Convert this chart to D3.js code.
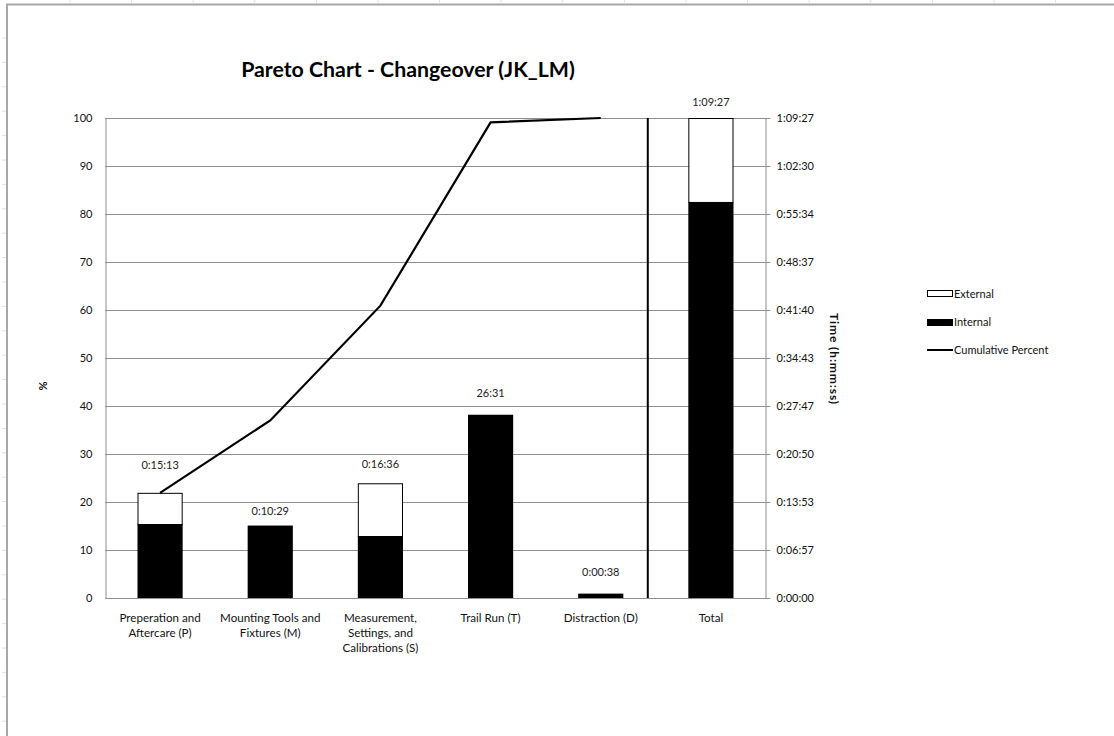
<!DOCTYPE html>
<html>
<head>
<meta charset="utf-8">
<script src="https://cdn.jsdelivr.net/npm/d3@7/dist/d3.min.js"></script>
<style>
  html, body { margin: 0; padding: 0; background: #fff; }
  svg { display: block; font-family: Lato, "Noto Sans", sans-serif; }
</style>
</head>
<body>
<svg id="chart" width="1114" height="736"></svg>
<script>
// Changeover steps (Pareto order) plus the overall total
const categories = [
  ["Preperation and", "Aftercare (P)"],
  ["Mounting Tools and", "Fixtures (M)"],
  ["Measurement,", "Settings, and", "Calibrations (S)"],
  ["Trail Run (T)"],
  ["Distraction (D)"],
  ["Total"]
];
// step durations in seconds
const stepSeconds     = [913, 629, 996, 1591, 38];
const internalSeconds = [642, 629, 538, 1591, 38];
const totalSeconds    = 4167;
const totalInternal   = 3438;
const valueLabels     = ["0:15:13", "0:10:29", "0:16:36", "26:31", "0:00:38", "1:09:27"];
// cumulative share of total changeover time, %
const cumulativePercent = [21.9, 37.0, 60.9, 99.1, 100.0];
const pctTicks  = [0, 10, 20, 30, 40, 50, 60, 70, 80, 90, 100];
const timeTicks = ["0:00:00", "0:06:57", "0:13:53", "0:20:50", "0:27:47", "0:34:43",
                   "0:41:40", "0:48:37", "0:55:34", "1:02:30", "1:09:27"];
const legendItems = ["External", "Internal", "Cumulative Percent"];

// layout
const plot = { left: 105, right: 766, top: 118, bottom: 598 };
const labelGap = [28, 14, 19, 22, 21, 16];
const gridColor = "#8e8e8e";

const svg = d3.select("#chart");

// sheet frame
svg.append("line").attr("x1", 7).attr("x2", 7).attr("y1", 4).attr("y2", 736)
  .attr("stroke", "#a8a8a8").attr("stroke-width", 2);
svg.append("line").attr("x1", 6).attr("x2", 1114).attr("y1", 4.5).attr("y2", 4.5)
  .attr("stroke", "#a8a8a8").attr("stroke-width", 2);
d3.range(70, 1114, 61.6).forEach(x => svg.append("line")
  .attr("x1", x).attr("x2", x).attr("y1", 0).attr("y2", 3).attr("stroke", "#e2e2e2"));
d3.range(38, 736, 24.4).forEach(y => svg.append("line")
  .attr("x1", 2).attr("x2", 6).attr("y1", y).attr("y2", y).attr("stroke", "#e2e2e2"));

const x = d3.scaleBand().domain(d3.range(categories.length))
  .range([plot.left, plot.right]).paddingInner(0.59).paddingOuter(0.295);
const yPct = d3.scaleLinear().domain([0, 100]).range([plot.bottom, plot.top]);
const yTime = d3.scaleLinear().domain([0, totalSeconds]).range([plot.bottom, plot.top]);
const cx = i => x(i) + x.bandwidth() / 2;

// gridlines
svg.append("g").selectAll("line").data(pctTicks.slice(1)).join("line")
  .attr("x1", plot.left).attr("x2", plot.right)
  .attr("y1", d => yPct(d) + 0.5).attr("y2", d => yPct(d) + 0.5)
  .attr("stroke", gridColor);

// left axis
const leftAxis = svg.append("g").attr("transform", `translate(${plot.left + 0.5},0)`)
  .call(d3.axisLeft(yPct).tickValues(pctTicks).tickSize(0).tickPadding(13));
leftAxis.select(".domain").attr("stroke", gridColor);
leftAxis.selectAll("text").attr("font-size", 11).attr("fill", "#111")
  .attr("font-family", "Lato, sans-serif");

// right axis
const timeTickValues = timeTicks.map((_, i) => totalSeconds * i / (timeTicks.length - 1));
const rightAxis = svg.append("g").attr("transform", `translate(${plot.right - 0.5},0)`)
  .call(d3.axisRight(yTime).tickValues(timeTickValues).tickSize(5).tickSizeOuter(0)
    .tickPadding(6).tickFormat((d, i) => timeTicks[i]));
rightAxis.select(".domain").attr("stroke", gridColor);
rightAxis.selectAll(".tick line").attr("stroke", gridColor);
rightAxis.selectAll("text").attr("font-size", 11).attr("fill", "#111")
  .attr("font-family", "Lato, sans-serif");

// bottom axis line
svg.append("line").attr("x1", plot.left).attr("x2", plot.right)
  .attr("y1", plot.bottom + 0.5).attr("y2", plot.bottom + 0.5).attr("stroke", gridColor);

// bars: internal (black) with external (white) stacked on top
const barTotals = stepSeconds.concat([totalSeconds]);
const barInternal = internalSeconds.concat([totalInternal]);
const bars = svg.append("g");
bars.selectAll("rect.ext").data(barTotals).join("rect").attr("class", "ext")
  .attr("x", (d, i) => x(i) + 0.5).attr("width", x.bandwidth() - 1)
  .attr("y", d => yTime(d) + 0.5).attr("height", (d, i) => yTime(barInternal[i]) - yTime(d))
  .attr("fill", "#fff").attr("stroke", "#000").attr("stroke-width", 1);
bars.selectAll("rect.int").data(barInternal).join("rect").attr("class", "int")
  .attr("x", (d, i) => x(i)).attr("width", x.bandwidth())
  .attr("y", d => yTime(d)).attr("height", d => yTime(0) - yTime(d))
  .attr("fill", "#000");

// separator between steps and total
const sepX = cx(4) + x.step() * 0.427;
svg.append("line").attr("x1", sepX).attr("x2", sepX)
  .attr("y1", plot.top).attr("y2", plot.bottom)
  .attr("stroke", "#000").attr("stroke-width", 2);

// value labels
svg.append("g").selectAll("text").data(valueLabels).join("text")
  .attr("x", (d, i) => cx(i)).attr("y", (d, i) => yTime(barTotals[i]) - labelGap[i])
  .attr("dy", "0.35em").attr("text-anchor", "middle")
  .attr("font-size", 11).attr("fill", "#222").text(d => d);

// cumulative percent line
svg.append("path").datum(cumulativePercent)
  .attr("d", d3.line().x((d, i) => cx(i)).y(d => yPct(d)))
  .attr("fill", "none").attr("stroke", "#000").attr("stroke-width", 2.2);

// category labels
const catG = svg.append("g").selectAll("text").data(categories).join("text")
  .attr("x", (d, i) => cx(i)).attr("y", plot.bottom + 24)
  .attr("text-anchor", "middle").attr("font-size", 11.6).attr("fill", "#111");
catG.selectAll("tspan").data(d => d).join("tspan")
  .attr("x", function () { return this.parentNode.getAttribute("x"); })
  .attr("dy", (d, j) => j === 0 ? 0 : 15).text(d => d);

// axis titles
svg.append("text").attr("transform", "translate(47,386) rotate(-90)")
  .attr("text-anchor", "middle").attr("font-size", 11).attr("font-weight", "bold")
  .attr("fill", "#111").text("%");
svg.append("text").attr("transform", "translate(830,359) rotate(90)")
  .attr("text-anchor", "middle").attr("font-size", 12).attr("font-weight", "bold")
  .attr("letter-spacing", 0.9).attr("fill", "#111").text("Time (h:mm:ss)");

// title
svg.append("text").attr("x", 408).attr("y", 77).attr("text-anchor", "middle")
  .attr("font-size", 21.3).attr("font-weight", "bold").attr("fill", "#000")
  .text("Pareto Chart - Changeover (JK_LM)");

// legend
const legend = svg.append("g").attr("transform", "translate(927,0)");
const legendY = [294, 322, 350];
legend.append("rect").attr("x", 0.5).attr("y", legendY[0] - 3.5).attr("width", 25).attr("height", 6)
  .attr("fill", "#fff").attr("stroke", "#000");
legend.append("rect").attr("x", 0).attr("y", legendY[1] - 3).attr("width", 26).attr("height", 7)
  .attr("fill", "#000");
legend.append("line").attr("x1", 0).attr("x2", 26).attr("y1", legendY[2]).attr("y2", legendY[2])
  .attr("stroke", "#000").attr("stroke-width", 2);
legend.selectAll("text").data(legendItems).join("text")
  .attr("x", 27).attr("y", (d, i) => legendY[i]).attr("dy", "0.35em")
  .attr("font-size", 11).attr("fill", "#111").text(d => d);
</script>
</body>
</html>
